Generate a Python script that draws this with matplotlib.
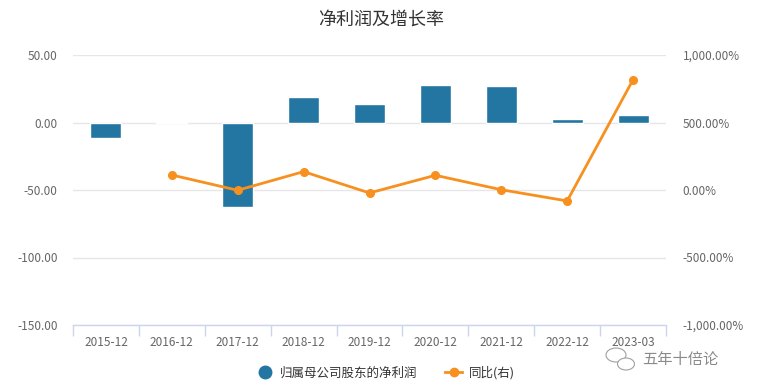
import matplotlib
matplotlib.use("Agg")
import matplotlib.pyplot as plt
from matplotlib.lines import Line2D
from matplotlib.patches import Ellipse
from matplotlib.ticker import FuncFormatter
import numpy as np

plt.rcParams['font.family'] = ['Noto Sans CJK SC', 'DejaVu Sans']

categories = ["2015-12", "2016-12", "2017-12", "2018-12", "2019-12",
              "2020-12", "2021-12", "2022-12", "2023-03"]
net_profit = [-11.3, 0.2, -62.3, 18.8, 13.6, 27.7, 27.0, 2.4, 5.4]
yoy_pct = [np.nan, 111, -2, 136, -22, 109, 2, -81, 817]

title = "净利润及增长率"
bar_label = "归属母公司股东的净利润"
line_label = "同比(右)"
left_ticks = [-150, -100, -50, 0, 50]
right_ticks = [-1000, -500, 0, 500, 1000]

bar_color = "#2376a1"
line_color = "#f7901e"
text_color = "#666666"
grid_color = "#e6e6e6"
axis_color = "#ccd6eb"

fig = plt.figure(figsize=(7.63, 3.91), dpi=100)
ax = fig.add_axes([73/763, 1-325/391, (666-73)/763, (325-55)/391])
ax2 = ax.twinx()

x = np.arange(len(categories))
ax.bar(x, net_profit, width=0.47, color=bar_color, edgecolor="white", linewidth=1, zorder=3)
ax.set_xlim(-0.5, len(categories)-0.5)
ax.set_ylim(-150, 50)
ax.set_yticks(left_ticks)
ax.yaxis.set_major_formatter(FuncFormatter(lambda v, p: f"{v:,.2f}"))
ax.grid(axis="y", color=grid_color, linewidth=1, zorder=0)
ax.set_axisbelow(True)

ax2.plot(x, yoy_pct, color=line_color, linewidth=2, marker="o", markersize=5.5, zorder=5)
ax2.set_ylim(-1000, 1000)
ax2.set_yticks(right_ticks)
ax2.yaxis.set_major_formatter(FuncFormatter(lambda v, p: f"{v:,.2f}%"))

for a in (ax, ax2):
    for s in a.spines.values():
        s.set_visible(False)
ax.spines["bottom"].set_visible(True)
ax.spines["bottom"].set_color(axis_color)
ax.spines["bottom"].set_linewidth(1)

ax.set_xticks(x)
ax.set_xticklabels(categories)
ax.set_xticks(np.arange(-0.5, len(categories), 1), minor=True)
ax.tick_params(axis="x", which="major", length=0, pad=8, labelsize=8.5, labelcolor=text_color)
ax.tick_params(axis="x", which="minor", length=8, color=axis_color, width=1)
ax.tick_params(axis="y", length=0, pad=11, labelsize=8.5, labelcolor=text_color)
ax2.tick_params(axis="y", length=0, pad=12, labelsize=8.5, labelcolor=text_color)

fig.text(0.5, 1-20/391, title, ha="center", va="center", fontsize=13, color="#333333")

handles = [
    Line2D([], [], linestyle="none", marker="o", markersize=9, color=bar_color),
    Line2D([], [], color=line_color, linewidth=2, marker="o", markersize=6),
]
fig.legend(handles, [bar_label, line_label], loc="center",
           bbox_to_anchor=(0.505, 1-373/391), ncol=2, frameon=False,
           fontsize=9, handlelength=1.4, columnspacing=2.2, handletextpad=0.5,
           labelcolor="#333333")

# watermark
fig.text(680/763, 1-359/391, "五年十倍论", ha="center", va="center",
         fontsize=11, color="#8a8a8a")
fig.add_artist(Ellipse((616/763, 1-355/391), 20/763, 14/391, transform=fig.transFigure,
                       fill=False, edgecolor="#a0a0a0", linewidth=0.8))
fig.add_artist(Ellipse((626/763, 1-364/391), 17/763, 12/391, transform=fig.transFigure,
                       facecolor="white", edgecolor="#a0a0a0", linewidth=0.8))

fig.savefig("out.png", dpi=100)
